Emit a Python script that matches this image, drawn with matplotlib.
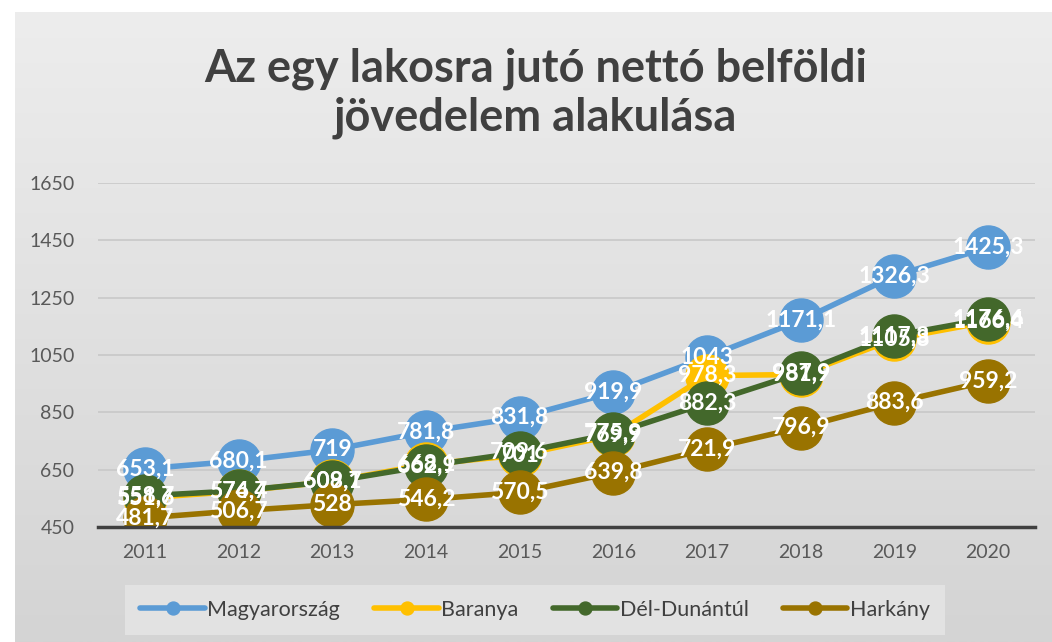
import numpy as np
import matplotlib.pyplot as plt

years = ["2011", "2012", "2013", "2014", "2015", "2016", "2017", "2018", "2019", "2020"]
magyarorszag = [653.1, 680.1, 719, 781.8, 831.8, 919.9, 1043, 1171.1, 1326.3, 1425.3]
baranya = [551.6, 574.7, 609.1, 668.1, 701.0, 769.9, 978.3, 981.9, 1105.8, 1166.4]
del_dunantul = [558.7, 576.4, 608.7, 662.9, 709.6, 775.9, 882.3, 987.9, 1117.3, 1176.6]
harkany = [481.7, 506.7, 528, 546.2, 570.5, 639.8, 721.9, 796.9, 883.6, 959.2]

series = [
    ("Magyarország", magyarorszag, "#5b9bd5"),
    ("Baranya", baranya, "#ffc000"),
    ("Dél-Dunántúl", del_dunantul, "#43682b"),
    ("Harkány", harkany, "#997300"),
]

plt.rcParams["font.family"] = ["Lato", "DejaVu Sans"]

fig = plt.figure(figsize=(10.52, 6.42), dpi=100)
fig.patch.set_facecolor("white")

# background gradient
bg = fig.add_axes([0.014, 0.0, 0.986, 0.982])
grad = np.linspace(0, 1, 256).reshape(-1, 1)
bg.imshow(grad, aspect="auto", cmap=plt.matplotlib.colors.LinearSegmentedColormap.from_list(
    "g", ["#ededed", "#d4d4d4"]), extent=[0, 1, 0, 1], origin="upper")
bg.set_axis_off()

ax = fig.add_axes([98 / 1052, 1 - 527 / 642, (1035 - 98) / 1052, (527 - 183) / 642])
ax.set_facecolor("none")
x = np.arange(len(years))

for name, vals, col in series:
    ax.plot(x, vals, color=col, lw=4, marker="o", markersize=31, label=name,
            solid_capstyle="round")
for name, vals, col in series:
    for xi, v in zip(x, vals):
        lab = ("%g" % v).replace(".", ",")
        ax.text(xi, v, lab, color="white", ha="center", va="center",
                fontsize=16.5, fontweight="bold")

ax.set_xlim(-0.5, len(years) - 0.5)
ax.set_ylim(450, 1650)
ax.set_yticks(range(450, 1651, 200))
ax.set_xticks(x)
ax.set_xticklabels(years)
ax.tick_params(axis="both", length=0, labelsize=14, colors="#595959")
ax.tick_params(axis="y", pad=17)
ax.tick_params(axis="x", pad=12)
ax.grid(axis="y", color="#c8c8c8", lw=1.2)
ax.set_axisbelow(True)
for s in ["top", "right", "left"]:
    ax.spines[s].set_visible(False)
ax.spines["bottom"].set_color("#404040")
ax.spines["bottom"].set_linewidth(2.5)

fig.text(0.509, 0.855, "Az egy lakosra jutó nettó belföldi\njövedelem alakulása",
         ha="center", va="center", fontsize=32.5, fontweight="bold", color="#404040",
         linespacing=1.2)

handles, labels = ax.get_legend_handles_labels()
leg = fig.legend(handles, labels, loc="center", bbox_to_anchor=(535 / 1052, 1 - 610 / 642),
                 ncol=4, frameon=True, fontsize=15.5, markerscale=0.3, handlelength=3,
                 columnspacing=1.6, handletextpad=0.1)
leg.get_frame().set_facecolor("#e6e6e6")
leg.get_frame().set_edgecolor("none")
leg.get_frame().set_boxstyle("square", pad=0.3)
for t in leg.get_texts():
    t.set_color("#404040")

fig.savefig("out.png", dpi=100)
